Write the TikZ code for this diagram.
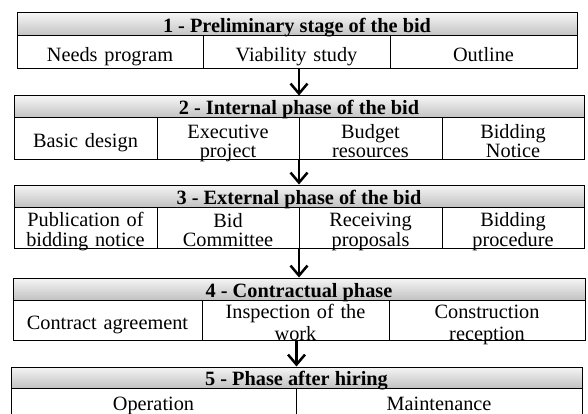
\documentclass[tikz,border=0pt]{standalone}
\usepackage{fontspec}
\setmainfont{Liberation Serif}
\usetikzlibrary{arrows.meta, calc}

\begin{document}
\begin{tikzpicture}[x=1pt, y=-1pt,
  font=\fontsize{20.3}{19}\selectfont,
  stagehead/.style={draw, line width=1pt, top color=black!4, bottom color=black!24,
    inner sep=0pt, text height=16pt, text depth=0pt,
    font=\fontsize{20.3}{19}\selectfont\bfseries},
  cell/.style={draw, line width=1pt, fill=white, inner xsep=4pt, inner ysep=-5pt, align=center,
    execute at begin node={\rule[-5pt]{0pt}{28pt}},
    execute at end node={\rule[-5pt]{0pt}{5pt}}},
  flow/.style={-{Straight Barb[length=10pt, width=17pt, line width=2.5pt]}, line width=2.4pt}]

  \useasboundingbox (0,0) rectangle (588,414);

  % ===== Stage 1 =====
  \node[cell, minimum width=186pt, text width=178pt, minimum height=33pt] (c11) at (110, 52.5) {Needs program};
  \node[cell, minimum width=187pt, text width=179pt, minimum height=33pt] (c12) at (296.5, 52.5) {Viability study};
  \node[cell, minimum width=187pt, text width=179pt, minimum height=33pt] (c13) at (483.5, 52.5) {Outline};
  \node[stagehead, minimum width=560pt, minimum height=23pt] (h1) at (297, 24.5) {1 - Preliminary stage of the bid};

  % ===== Stage 2 =====
  \node[cell, minimum width=143pt, text width=135pt, minimum height=42pt] (c21) at (85.5, 139) {Basic design};
  \node[cell, minimum width=142pt, text width=134pt, minimum height=42pt] (c22) at (228, 139) {Executive\\project};
  \node[cell, minimum width=143pt, text width=135pt, minimum height=42pt] (c23) at (370.5, 139) {Budget\\resources};
  \node[cell, minimum width=142pt, text width=134pt, minimum height=42pt] (c24) at (513, 139) {Bidding\\Notice};
  \node[stagehead, minimum width=570pt, minimum height=22pt] (h2) at (299, 107) {2 - Internal phase of the bid};

  % ===== Stage 3 =====
  \node[cell, minimum width=143pt, text width=135pt, minimum height=41pt] (c31) at (85.5, 227.5) {Publication of\\bidding notice};
  \node[cell, minimum width=142pt, text width=134pt, minimum height=41pt] (c32) at (228, 227.5) {Bid\\Committee};
  \node[cell, minimum width=143pt, text width=135pt, minimum height=41pt] (c33) at (370.5, 227.5) {Receiving\\proposals};
  \node[cell, minimum width=142pt, text width=134pt, minimum height=41pt] (c34) at (513, 227.5) {Bidding\\procedure};
  \node[stagehead, minimum width=570pt, minimum height=22pt] (h3) at (299, 196) {3 - External phase of the bid};

  % ===== Stage 4 =====
  \node[cell, minimum width=189pt, text width=181pt, minimum height=40pt] (c41) at (107.5, 320) {Contract agreement};
  \node[cell, minimum width=187pt, text width=179pt, minimum height=40pt, font=\fontsize{20.3}{22}\selectfont] (c42) at (295.5, 320) {Inspection of the\\work};
  \node[cell, minimum width=196pt, text width=188pt, minimum height=40pt, font=\fontsize{20.3}{22}\selectfont] (c43) at (487, 320) {Construction\\reception};
  \node[stagehead, minimum width=572pt, minimum height=22pt] (h4) at (299, 289) {4 - Contractual phase};

  % ===== Stage 5 =====
  \node[cell, minimum width=285pt, text width=277pt, minimum height=27pt] (c51) at (153.5, 401.5) {Operation};
  \node[cell, minimum width=286pt, text width=278pt, minimum height=27pt] (c52) at (439, 401.5) {Maintenance};
  \node[stagehead, minimum width=571pt, minimum height=21pt] (h5) at (296.5, 377.5) {5 - Phase after hiring};

  % Flow between stages
  \draw[flow] (h2.north |- c12.south) -- (h2.north);
  \draw[flow] (h3.north |- c22.south) -- (h3.north);
  \draw[flow] (h4.north |- c32.south) -- (h4.north);
  \draw[flow] (h5.north |- c42.south) -- (h5.north);
\end{tikzpicture}
\end{document}
